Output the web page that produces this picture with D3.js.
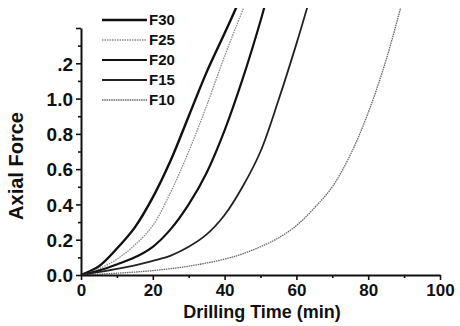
<!DOCTYPE html>
<html>
<head>
<meta charset="utf-8">
<script src="https://cdn.jsdelivr.net/npm/d3@7"></script>
<style>
  body { margin: 0; background: #fff; }
  text { font-family: "Liberation Sans", Arial, sans-serif; font-weight: bold; fill: #111; }
</style>
</head>
<body>
<div id="chart"></div>
<script>
// 数据
const seriesNames = ['F30', 'F25', 'F20', 'F15', 'F10'];
const timeF30 = [0, 5, 10, 15, 20, 25, 30, 35, 40, 44];
const forceF30 = [0, 0.05, 0.15, 0.27, 0.44, 0.65, 0.90, 1.15, 1.37, 1.55];
const timeF25 = [0, 5, 10, 15, 20, 25, 30, 35, 40, 46];
const forceF25 = [0, 0.035, 0.09, 0.17, 0.28, 0.47, 0.70, 0.96, 1.24, 1.55];
const timeF20 = [0, 5, 10, 15, 20, 25, 30, 35, 40, 45, 50, 51.5];
const forceF20 = [0, 0.025, 0.06, 0.10, 0.16, 0.26, 0.40, 0.58, 0.82, 1.11, 1.44, 1.55];
const timeF15 = [0, 10, 15, 20, 25, 30, 35, 40, 45, 50, 55, 60, 63.5];
const forceF15 = [0, 0.035, 0.055, 0.08, 0.11, 0.16, 0.23, 0.34, 0.50, 0.70, 0.99, 1.31, 1.55];
const timeF10 = [0, 10, 20, 30, 40, 45, 50, 55, 60, 65, 70, 75, 80, 85, 89.5];
const forceF10 = [0, 0.01, 0.025, 0.05, 0.09, 0.12, 0.16, 0.21, 0.28, 0.38, 0.50, 0.68, 0.92, 1.22, 1.55];
const xTicks = [0, 20, 40, 60, 80, 100];
const yTicks = [0, 0.2, 0.4, 0.6, 0.8, 1.0, 1.2];
const yTickLabels = ['0.0', '0.2', '0.4', '0.6', '0.8', '1.0', '.2'];

const times = [timeF30, timeF25, timeF20, timeF15, timeF10];
const forces = [forceF30, forceF25, forceF20, forceF15, forceF10];

// 线型
const lineStyle = [
    {stroke: '#111', width: 2.4, dash: null},
    {stroke: '#888', width: 1.3, dash: '1.5,1'},
    {stroke: '#111', width: 2.2, dash: null},
    {stroke: '#222', width: 1.8, dash: null},
    {stroke: '#666', width: 1.3, dash: '1.5,0.8'}
];

const width = 460, height = 326;
const svg = d3.select('#chart').append('svg')
    .attr('width', width)
    .attr('height', height);

const x = d3.scaleLinear().domain([0, 100]).range([81, 440]);
const y = d3.scaleLinear().domain([0, 1.4]).range([275, 28]);

// 裁剪区域
svg.append('clipPath').attr('id', 'plotClip')
    .append('rect')
    .attr('x', x(0)).attr('y', 8)
    .attr('width', x(100) - x(0)).attr('height', y(0) - 8);

const line = d3.line()
    .x(d => x(d[0]))
    .y(d => y(d[1]))
    .curve(d3.curveCatmullRom.alpha(0.5));

const curves = svg.append('g').attr('clip-path', 'url(#plotClip)');
seriesNames.forEach((name, i) => {
    const pts = times[i].map((t, j) => [t, forces[i][j]]);
    curves.append('path')
        .datum(pts)
        .attr('d', line)
        .attr('fill', 'none')
        .attr('stroke', lineStyle[i].stroke)
        .attr('stroke-width', lineStyle[i].width)
        .attr('stroke-dasharray', lineStyle[i].dash);
});

// 坐标轴
const xAxis = d3.axisBottom(x)
    .tickValues(d3.range(0, 101, 10))
    .tickSizeInner(4).tickSizeOuter(0)
    .tickFormat(d => xTicks.includes(d) ? d : '');
const gx = svg.append('g')
    .attr('transform', `translate(0, ${y(0)})`)
    .call(xAxis);
gx.select('.domain').attr('stroke', '#111').attr('stroke-width', 2);
gx.selectAll('.tick line')
    .attr('stroke', '#111').attr('stroke-width', 1.6)
    .attr('y2', d => xTicks.includes(d) ? 5 : 3);
gx.selectAll('.tick text')
    .attr('y', 9)
    .style('font-size', '17px')
    .style('font-family', '"Liberation Sans", Arial, sans-serif')
    .style('font-weight', 'bold')
    .attr('fill', '#111');

const yAxis = d3.axisLeft(y)
    .tickValues(d3.range(0, 15).map(d => d / 10))
    .tickSizeInner(5).tickSizeOuter(0)
    .tickFormat(d => {
        const k = yTicks.findIndex(v => Math.abs(v - d) < 1e-6);
        return k >= 0 ? yTickLabels[k] : '';
    });
const gy = svg.append('g')
    .attr('transform', `translate(${x(0)}, 0)`)
    .call(yAxis);
gy.select('.domain').attr('stroke', '#111').attr('stroke-width', 2);
gy.selectAll('.tick line')
    .attr('stroke', '#111').attr('stroke-width', 1.6)
    .attr('x2', (d, i) => i % 2 === 0 ? -5 : -3);
gy.selectAll('.tick text')
    .attr('x', -8)
    .attr('dy', '0.36em')
    .style('font-size', '19px')
    .style('font-family', '"Liberation Sans", Arial, sans-serif')
    .style('font-weight', 'bold')
    .attr('fill', '#111');

// 轴标题
svg.append('text')
    .attr('x', 262).attr('y', 318)
    .attr('text-anchor', 'middle')
    .style('font-size', '18px')
    .text('Drilling Time (min)');

svg.append('text')
    .attr('transform', 'translate(23, 166) rotate(-90)')
    .attr('text-anchor', 'middle')
    .style('font-size', '20px')
    .text('Axial Force');

// 图例
const legend = svg.append('g');
const legendY = d3.scalePoint().domain(seriesNames).range([20, 100]);
seriesNames.forEach((name, i) => {
    legend.append('line')
        .attr('x1', 102).attr('x2', 147)
        .attr('y1', legendY(name)).attr('y2', legendY(name))
        .attr('stroke', lineStyle[i].stroke)
        .attr('stroke-width', lineStyle[i].width)
        .attr('stroke-dasharray', lineStyle[i].dash);
    legend.append('text')
        .attr('x', 149).attr('y', legendY(name))
        .attr('dy', '0.36em')
        .style('font-size', '15px')
        .text(name);
});
</script>
</body>
</html>
